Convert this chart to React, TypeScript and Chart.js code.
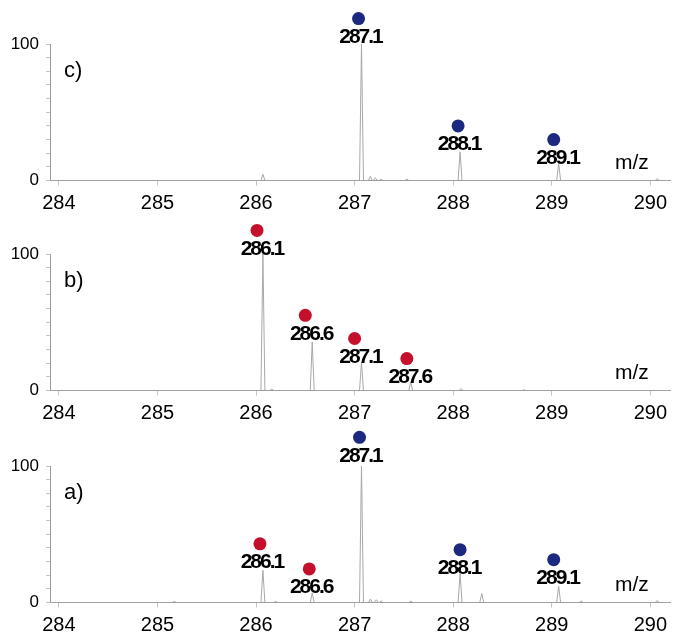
import React, { useEffect, useRef } from 'react';
import { Chart, registerables } from 'chart.js';

Chart.register(...registerables);

// ---------- axis ranges ----------
const X_MIN = 283.91;
const X_MAX = 290.2;
const Y_MIN = 0;
const Y_MAX = 100;
const X_TICK_STEP = 1;
const Y_TICK_STEP = 10;
const Y_LABELLED = [0, 100];

// ---------- panel c ----------
const cName = 'c)';
const cPeakMz = [286.07, 287.07, 287.16, 287.21, 287.27, 287.53, 288.07, 289.07, 290.07];
const cPeakInt = [4.5, 100, 3, 2, 1, 1, 21, 12.5, 1.5];
const cDotMz = [287.04, 288.05, 289.02];
const cDotInt = [118.6, 40, 30];
const cLabelMz = [287.07, 288.07, 289.07];
const cLabels = ['287.1', '288.1', '289.1'];
const cKinds = ['blue', 'blue', 'blue'];

// ---------- panel b ----------
const bName = 'b)';
const bPeakMz = [286.07, 286.16, 286.57, 287.07, 287.57, 288.08, 288.72];
const bPeakInt = [100, 1, 35.6, 20.9, 6.3, 1.5, 0.5];
const bDotMz = [286.01, 286.5, 287.0, 287.53];
const bDotInt = [117.3, 55.1, 38.1, 23.4];
const bLabelMz = [286.07, 286.57, 287.07, 287.57];
const bLabels = ['286.1', '286.6', '287.1', '287.6'];
const bKinds = ['red', 'red', 'red', 'red'];

// ---------- panel a ----------
const aName = 'a)';
const aPeakMz = [285.17, 286.07, 286.2, 286.57, 287.07, 287.16, 287.22, 287.27, 287.57, 288.07, 288.29, 289.07, 289.3, 290.07];
const aPeakInt = [0.8, 23.6, 0.8, 7, 100, 2.5, 2, 1, 1, 21.2, 6.6, 11.9, 1, 1.5];
const aDotMz = [286.04, 286.54, 287.05, 288.07, 289.02];
const aDotInt = [43, 24.6, 121, 38.7, 31.4];
const aLabelMz = [286.07, 286.57, 287.07, 288.07, 289.07];
const aLabels = ['286.1', '286.6', '287.1', '288.1', '289.1'];
const aKinds = ['red', 'red', 'blue', 'blue', 'blue'];

const KIND_COLORS: Record<string, string> = { blue: '#1b2a80', red: '#c4102b' };
const PEAK_HALF_WIDTH = 0.02;
const DOT_RADIUS = 6.5;
const FONT = '"Liberation Sans", Arial, Helvetica, sans-serif';

type Panel = {
  name: string;
  peakMz: number[];
  peakInt: number[];
  dotMz: number[];
  dotInt: number[];
  labelMz: number[];
  labels: string[];
  kinds: string[];
};

const panels: { panel: Panel; top: number }[] = [
  { panel: { name: cName, peakMz: cPeakMz, peakInt: cPeakInt, dotMz: cDotMz, dotInt: cDotInt, labelMz: cLabelMz, labels: cLabels, kinds: cKinds }, top: 0 },
  { panel: { name: bName, peakMz: bPeakMz, peakInt: bPeakInt, dotMz: bDotMz, dotInt: bDotInt, labelMz: bLabelMz, labels: bLabels, kinds: bKinds }, top: 210 },
  { panel: { name: aName, peakMz: aPeakMz, peakInt: aPeakInt, dotMz: aDotMz, dotInt: aDotInt, labelMz: aLabelMz, labels: aLabels, kinds: aKinds }, top: 422 },
];

const W = 673;
const H = 213;
const PAD_TOP = 44;
const Y_AXIS_W = 50;
const X_AXIS_H = 32.5;

function spectrumPoints(p: Panel) {
  const pts: { x: number; y: number }[] = [{ x: X_MIN, y: 0 }];
  p.peakMz.forEach((mz, i) => {
    pts.push({ x: mz - PEAK_HALF_WIDTH, y: 0 });
    pts.push({ x: mz, y: p.peakInt[i] });
    pts.push({ x: mz + PEAK_HALF_WIDTH, y: 0 });
  });
  pts.push({ x: X_MAX, y: 0 });
  return pts;
}

function makeAnnotatePlugin(p: Panel) {
  return {
    id: 'annotate',
    afterDatasetsDraw(chart: any) {
      const { ctx, chartArea, scales } = chart;
      ctx.save();
      // marker dots (positions from the scatter dataset's elements; may lie above the plot area)
      const meta = chart.getDatasetMeta(0);
      meta.data.forEach((el: any, i: number) => {
        ctx.beginPath();
        ctx.arc(el.x, el.y, DOT_RADIUS, 0, Math.PI * 2);
        ctx.fillStyle = KIND_COLORS[p.kinds[i]];
        ctx.fill();
      });
      ctx.fillStyle = '#000';
      ctx.textBaseline = 'middle';
      // peak labels
      ctx.font = `bold 21px ${FONT}`;
      ctx.textAlign = 'center';
      (ctx as any).letterSpacing = '-2px';
      p.labels.forEach((t, i) => {
        const x = scales.x.getPixelForValue(p.labelMz[i]);
        const y = scales.y.getPixelForValue(p.dotInt[i]) + 18.5;
        ctx.fillText(t, x - 1, y);
      });
      (ctx as any).letterSpacing = '0px';
      // panel name
      ctx.textAlign = 'left';
      ctx.font = `22px ${FONT}`;
      ctx.fillText(p.name, chartArea.left + 14, chartArea.top + 27);
      // m/z
      ctx.font = `21px ${FONT}`;
      ctx.fillText('m/z', 615, chartArea.bottom - 17);
      ctx.restore();
    },
  };
}

function SpectrumPanel({ panel, top }: { panel: Panel; top: number }) {
  const ref = useRef<HTMLCanvasElement | null>(null);
  useEffect(() => {
    if (!ref.current) return;
    const chart = new Chart(ref.current, {
      type: 'scatter',
      data: {
        datasets: [
          {
            type: 'scatter',
            data: panel.dotMz.map((x, i) => ({ x, y: panel.dotInt[i] })),
            pointRadius: 0,
            pointHoverRadius: 0,
            pointBackgroundColor: panel.kinds.map((k) => KIND_COLORS[k]),
            pointBorderWidth: 0,
          },
          {
            type: 'line',
            data: spectrumPoints(panel),
            borderColor: '#a8a8a8',
            borderWidth: 1,
            pointRadius: 0,
            tension: 0,
            fill: false,
            showLine: true,
          } as any,
        ],
      },
      options: {
        animation: false,
        responsive: false,
        devicePixelRatio: 1,
        events: [],
        layout: { padding: { top: PAD_TOP, left: 0, right: 0, bottom: 0 } },
        plugins: { legend: { display: false }, tooltip: { enabled: false }, title: { display: false } },
        scales: {
          x: {
            type: 'linear',
            min: X_MIN,
            max: X_MAX,
            afterFit: (s: any) => {
              s.height = X_AXIS_H;
            },
            border: { display: true, color: '#9a9a9a', width: 1 },
            grid: { drawOnChartArea: false, drawTicks: true, tickLength: 5, color: '#c4c4c4' },
            ticks: {
              stepSize: X_TICK_STEP,
              includeBounds: false,
              autoSkip: false,
              maxRotation: 0,
              color: '#000',
              padding: 6,
              font: { family: FONT, size: 20 },
              callback: (v: any) => String(Math.round(Number(v))),
            },
          },
          y: {
            type: 'linear',
            min: Y_MIN,
            max: Y_MAX,
            afterFit: (s: any) => {
              s.width = Y_AXIS_W;
            },
            border: { display: true, color: '#9a9a9a', width: 1 },
            grid: { drawOnChartArea: false, drawTicks: true, tickLength: 4, color: '#c4c4c4' },
            ticks: {
              stepSize: Y_TICK_STEP,
              autoSkip: false,
              color: '#000',
              padding: 7,
              font: { family: FONT, size: 17 },
              callback: (v: any) => (Y_LABELLED.includes(Number(v)) ? String(v) : ''),
            },
          },
        },
      },
      plugins: [makeAnnotatePlugin(panel)],
    } as any);
    return () => chart.destroy();
  }, [panel]);
  return (
    <canvas
      ref={ref}
      width={W}
      height={H}
      style={{ position: 'absolute', left: 0, top, width: W, height: H }}
    />
  );
}

export default function App() {
  return (
    <div style={{ position: 'absolute', left: 0, top: 0, width: W, height: 641, background: '#fff' }}>
      {panels.map((p, i) => (
        <SpectrumPanel key={i} panel={p.panel} top={p.top} />
      ))}
    </div>
  );
}
